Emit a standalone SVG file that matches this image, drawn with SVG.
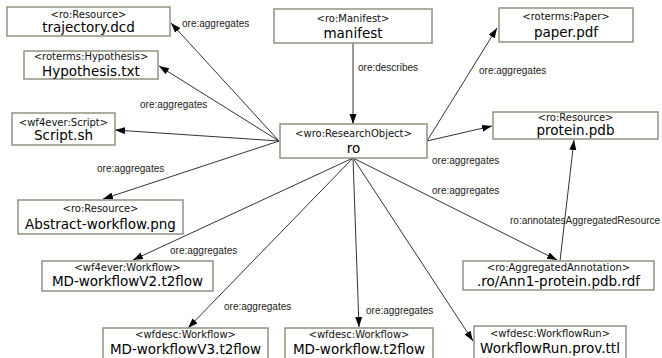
<svg xmlns="http://www.w3.org/2000/svg" width="662" height="358" viewBox="0 0 662 358">
  <style>
    .box { fill: #ffffff; stroke: #8f9380; stroke-width: 1.5; }
    .type { font-family: "DejaVu Sans", sans-serif; font-size: 10px; fill: #111; text-anchor: middle; }
    .name { font-family: "DejaVu Sans", sans-serif; font-size: 13.5px; fill: #000; text-anchor: middle; }
    .edge { stroke: #333; stroke-width: 1; fill: none; marker-end: url(#arrow); }
    .elabel { font-family: "Liberation Sans", Arial, sans-serif; font-size: 10px; fill: #222; }
  </style>
  <defs>
    <marker id="arrow" markerUnits="userSpaceOnUse" markerWidth="11" markerHeight="8" refX="10" refY="3.5" orient="auto">
      <path d="M0,0 L10,3.5 L0,7 z" fill="#000"/>
    </marker>
  </defs>
  <rect width="662" height="358" fill="#ffffff"/>

  <g id="connectors">
    <line class="edge" x1="279" y1="141" x2="171" y2="23"/>
    <line class="edge" x1="279" y1="141" x2="159" y2="66"/>
    <line class="edge" x1="279" y1="141" x2="115" y2="130"/>
    <line class="edge" x1="279" y1="141" x2="103" y2="199"/>
    <line class="edge" x1="353" y1="158" x2="133" y2="260"/>
    <line class="edge" x1="353" y1="158" x2="188" y2="328"/>
    <line class="edge" x1="353" y1="158" x2="359" y2="327"/>
    <line class="edge" x1="353" y1="158" x2="473" y2="341"/>
    <line class="edge" x1="353" y1="158" x2="557" y2="260"/>
    <line class="edge" x1="427" y1="141" x2="492" y2="126"/>
    <line class="edge" x1="427" y1="141" x2="497" y2="28"/>
    <line class="edge" x1="353" y1="43" x2="353" y2="124"/>
    <line class="edge" x1="560" y1="261" x2="574" y2="140"/>

    <text class="elabel" x="182" y="27">ore:aggregates</text>
    <text class="elabel" x="140" y="108">ore:aggregates</text>
    <text class="elabel" x="358" y="71">ore:describes</text>
    <text class="elabel" x="479" y="74">ore:aggregates</text>
    <text class="elabel" x="97" y="172">ore:aggregates</text>
    <text class="elabel" x="432" y="164">ore:aggregates</text>
    <text class="elabel" x="432" y="194">ore:aggregates</text>
    <text class="elabel" x="510" y="224">ro:annotatesAggregatedResource</text>
    <text class="elabel" x="170" y="254">ore:aggregates</text>
    <text class="elabel" x="224" y="310">ore:aggregates</text>
    <text class="elabel" x="366" y="314">ore:aggregates</text>
  </g>

  <g id="trajectory">
    <rect class="box" x="7" y="7" width="163" height="29"/>
    <text class="type" x="88.5" y="18">&lt;ro:Resource&gt;</text>
    <text class="name" x="88.5" y="32">trajectory.dcd</text>
  </g>
  <g id="hypothesis">
    <rect class="box" x="24" y="51" width="134" height="28"/>
    <text class="type" x="91" y="60">&lt;roterms:Hypothesis&gt;</text>
    <text class="name" x="91" y="75.5">Hypothesis.txt</text>
  </g>
  <g id="manifest">
    <rect class="box" x="274" y="9" width="158" height="34"/>
    <text class="type" x="353" y="21.5">&lt;ro:Manifest&gt;</text>
    <text class="name" x="353" y="37.5">manifest</text>
  </g>
  <g id="paper">
    <rect class="box" x="499" y="8" width="134" height="34"/>
    <text class="type" x="566" y="20">&lt;roterms:Paper&gt;</text>
    <text class="name" x="566" y="36.5">paper.pdf</text>
  </g>
  <g id="script">
    <rect class="box" x="12" y="113" width="103" height="32"/>
    <text class="type" x="63.5" y="125.5">&lt;wf4ever:Script&gt;</text>
    <text class="name" x="63.5" y="140">Script.sh</text>
  </g>
  <g id="ro">
    <rect class="box" x="280" y="124" width="147" height="34"/>
    <text class="type" x="353.5" y="136.5">&lt;wro:ResearchObject&gt;</text>
    <text class="name" x="353.5" y="152.5">ro</text>
  </g>
  <g id="protein">
    <rect class="box" x="493" y="112" width="165" height="27"/>
    <text class="type" x="575.5" y="121">&lt;ro:Resource&gt;</text>
    <text class="name" x="575.5" y="135">protein.pdb</text>
  </g>
  <g id="abstract">
    <rect class="box" x="18" y="200" width="165" height="34"/>
    <text class="type" x="100.5" y="212">&lt;ro:Resource&gt;</text>
    <text class="name" x="100.5" y="229">Abstract-workflow.png</text>
  </g>
  <g id="workflowV2">
    <rect class="box" x="42" y="261" width="171" height="30"/>
    <text class="type" x="127.5" y="271">&lt;wf4ever:Workflow&gt;</text>
    <text class="name" x="127.5" y="286">MD-workflowV2.t2flow</text>
  </g>
  <g id="annotation">
    <rect class="box" x="463" y="261" width="191" height="29"/>
    <text class="type" x="558.5" y="271">&lt;ro:AggregatedAnnotation&gt;</text>
    <text class="name" x="558.5" y="286">.ro/Ann1-protein.pdb.rdf</text>
  </g>
  <g id="workflowV3">
    <rect class="box" x="103" y="328" width="165" height="34"/>
    <text class="type" x="185.5" y="337.5">&lt;wfdesc:Workflow&gt;</text>
    <text class="name" x="185.5" y="354">MD-workflowV3.t2flow</text>
  </g>
  <g id="workflow">
    <rect class="box" x="285" y="328" width="148" height="34"/>
    <text class="type" x="359" y="337.5">&lt;wfdesc:Workflow&gt;</text>
    <text class="name" x="359" y="353.5">MD-workflow.t2flow</text>
  </g>
  <g id="workflowRun">
    <rect class="box" x="474" y="326" width="152" height="36"/>
    <text class="type" x="550" y="336.5">&lt;wfdesc:WorkflowRun&gt;</text>
    <text class="name" x="550" y="352.5">WorkflowRun.prov.ttl</text>
  </g>
</svg>
